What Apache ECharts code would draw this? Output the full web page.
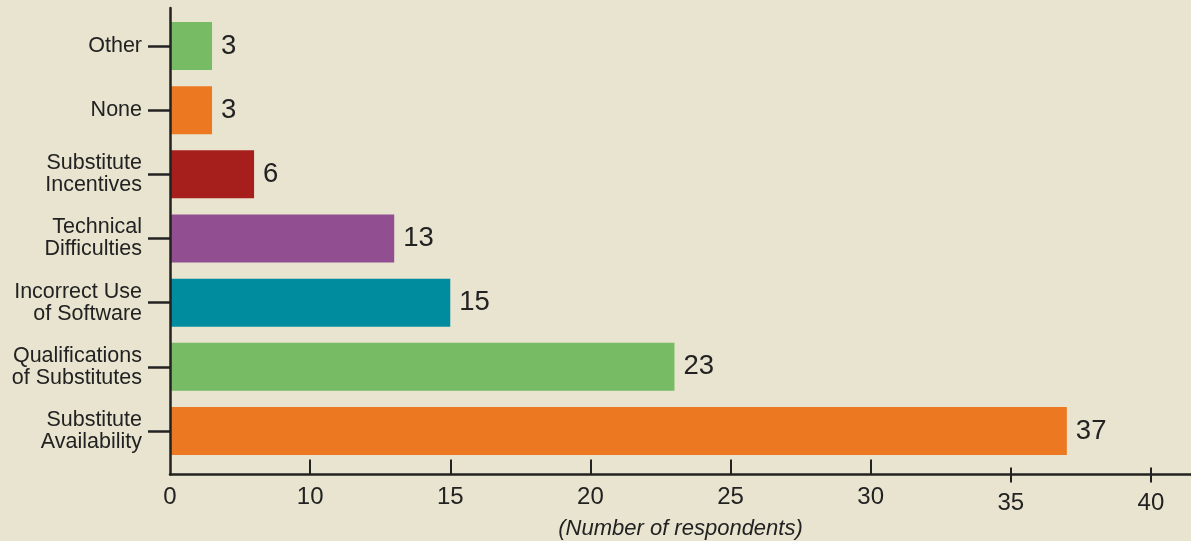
<!DOCTYPE html>
<html>
<head>
<meta charset="utf-8">
<script src="https://cdn.jsdelivr.net/npm/echarts@6/dist/echarts.min.js"></script>
<style>
  html, body { margin: 0; padding: 0; background: #e8e4cf; }
  #chart { width: 1191px; height: 541px; }
</style>
</head>
<body>
<div id="chart"></div>
<script>
  // categories top to bottom
  var categories = ['Other', 'None', 'Substitute\nIncentives', 'Technical\nDifficulties',
                    'Incorrect Use\nof Software', 'Qualifications\nof Substitutes', 'Substitute\nAvailability'];
  var values = [3, 3, 6, 13, 15, 23, 37];
  var barColors = ['#77bb65', '#ec7821', '#a71f1c', '#914f92', '#008c9f', '#77bb65', '#ec7821'];
  var tickLabels = [0, 10, 15, 20, 25, 30, 35, 40];
  var lowTickLabels = [35, 40]; // these sit a bit lower, ticks crossing the axis

  // the source axis is broken: 0-10 takes the same room as 10-15
  function toAxis(v) { return v <= 10 ? v / 2 : v - 5; }
  function fromAxis(d) { return d <= 5 ? d * 2 : d + 5; }

  var upperTicks = tickLabels.filter(function (t) { return lowTickLabels.indexOf(t) < 0; });
  var font = 'Liberation Sans, Arial, sans-serif';
  var axisMax = 36.43;

  var myChart = echarts.init(document.getElementById('chart'));

  myChart.setOption({
    backgroundColor: '#e8e4cf',
    animation: false,
    grid: [
      {left: 170, right: 0, top: 13.9, bottom: 77.9, outerBoundsMode: 'none', containLabel: false},  // bars
      {left: 170, right: 0, top: 8, bottom: 66.5, outerBoundsMode: 'none', containLabel: false}      // axis frame
    ],
    xAxis: [
      {
        gridIndex: 0, type: 'value', min: 0, max: axisMax, show: false
      },
      {
        gridIndex: 1, type: 'value', min: 0, max: axisMax, position: 'bottom', z: 5,
        axisLine: {show: true, lineStyle: {color: '#222', width: 2.5}},
        axisTick: {
          show: true, inside: true, length: 15,
          lineStyle: {color: '#222', width: 2},
          customValues: upperTicks.filter(function (t) { return t > 0; }).map(toAxis)
        },
        axisLabel: {
          color: '#222', fontSize: 24, fontFamily: font, margin: 11,
          customValues: upperTicks.map(toAxis),
          formatter: function (d) { return String(Math.round(fromAxis(d))); }
        },
        splitLine: {show: false},
        name: '(Number of respondents)',
        nameLocation: 'middle',
        nameGap: 43,
        nameTextStyle: {color: '#222', fontSize: 22, fontStyle: 'italic', fontFamily: font}
      },
      {
        gridIndex: 1, type: 'value', min: 0, max: axisMax, position: 'bottom', offset: 8, z: 5,
        axisLine: {show: false},
        axisTick: {
          show: true, inside: true, length: 15,
          lineStyle: {color: '#222', width: 2},
          customValues: lowTickLabels.map(toAxis)
        },
        axisLabel: {
          color: '#222', fontSize: 24, fontFamily: font, margin: 9,
          customValues: lowTickLabels.map(toAxis),
          formatter: function (d) { return String(Math.round(fromAxis(d))); }
        },
        splitLine: {show: false}
      }
    ],
    yAxis: [
      {
        gridIndex: 0, type: 'category', inverse: true, data: categories,
        axisLine: {show: false},
        axisTick: {show: true, alignWithLabel: true, length: 22, lineStyle: {color: '#222', width: 2.5}},
        axisLabel: {color: '#222', fontSize: 21.5, lineHeight: 22, fontFamily: font, margin: 28, align: 'right'}
      },
      {
        gridIndex: 1, type: 'value', min: 0, max: 1, z: 5,
        axisLine: {show: true, lineStyle: {color: '#222', width: 2.5}},
        axisTick: {show: false}, axisLabel: {show: false}, splitLine: {show: false}
      }
    ],
    series: [
      {
        type: 'bar',
        xAxisIndex: 0, yAxisIndex: 0,
        barWidth: 48,
        data: values.map(function (v, i) {
          return {value: toAxis(v), itemStyle: {color: barColors[i]}};
        }),
        label: {
          show: true, position: 'right', distance: 9,
          color: '#222', fontSize: 27.5, fontFamily: font,
          formatter: function (p) { return values[p.dataIndex]; }
        }
      }
    ]
  });
</script>
</body>
</html>
